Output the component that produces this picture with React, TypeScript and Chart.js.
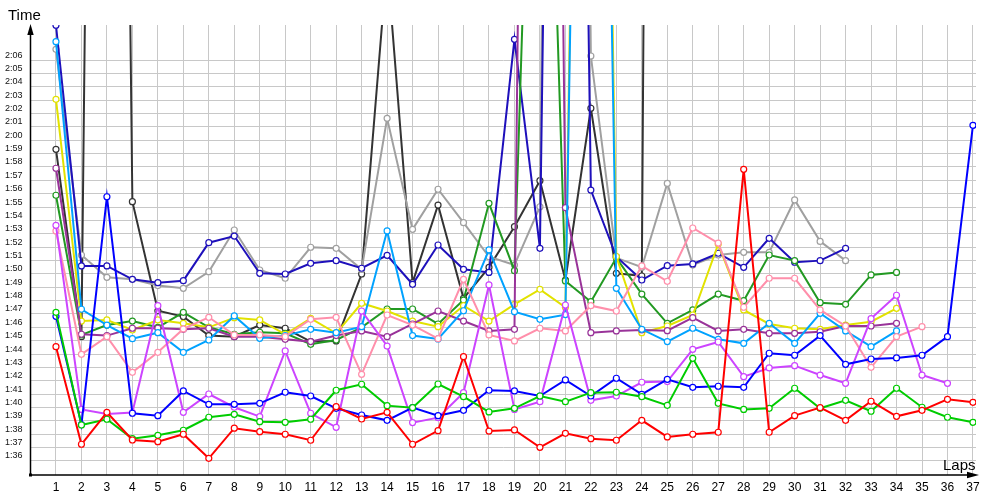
import { useEffect, useRef } from 'react';
import { Chart, registerables } from 'chart.js';

Chart.register(...registerables);

const laps = [1, 2, 3, 4, 5, 6, 7, 8, 9, 10, 11, 12, 13, 14, 15, 16, 17, 18, 19, 20, 21, 22, 23, 24, 25, 26, 27, 28, 29, 30, 31, 32, 33, 34, 35, 36, 37];
const yTickSeconds = [96, 97, 98, 99, 100, 101, 102, 103, 104, 105, 106, 107, 108, 109, 110, 111, 112, 113, 114, 115, 116, 117, 118, 119, 120, 121, 122, 123, 124, 125, 126];

// lap times in seconds
const red = [104.55, 97.25, 99.64, 97.57, 97.44, 98.0, 96.2, 98.45, 98.19, 98.0, 97.55, 100.06, 99.14, 99.64, 97.25, 98.27, 103.8, 98.24, 98.32, 97.02, 98.07, 97.67, 97.55, 99.04, 97.8, 98.0, 98.15, 117.82, 98.15, 99.39, 99.99, 99.04, 100.47, 99.34, 99.79, 100.61, 100.39];
const lime = [107.12, 98.69, 99.12, 97.67, 97.92, 98.3, 99.27, 99.49, 98.94, 98.89, 99.12, 101.29, 101.74, 100.14, 99.99, 101.76, 100.81, 99.67, 99.94, 100.86, 100.44, 101.11, 101.14, 100.81, 100.16, 103.68, 100.31, 99.86, 99.94, 101.44, 99.94, 100.54, 99.72, 101.44, 100.02, 99.27, 98.89];
const blue = [106.82, 98.72, 115.77, 99.57, 99.39, 101.24, 100.24, 100.24, 100.31, 101.14, 100.86, 99.94, 99.44, 99.04, 99.99, 99.39, 99.79, 101.29, 101.24, 100.86, 102.06, 100.86, 102.19, 100.99, 102.11, 101.51, 101.59, 101.51, 104.06, 103.91, 105.38, 103.23, 103.63, 103.71, 103.91, 105.3, 121.11];
const violet = [113.63, 99.86, 99.52, 99.62, 107.62, 99.64, 101.01, 100.02, 99.32, 104.23, 99.57, 98.52, 107.22, 104.6, 98.87, 99.24, 101.11, 109.17, 99.86, 100.44, 107.67, 100.54, 100.86, 101.89, 101.94, 104.35, 104.9, 102.31, 102.96, 103.13, 102.43, 101.81, 106.65, 108.4, 102.43, 101.81];
const pink = [113.21, 103.98, 105.3, 102.63, 104.13, 105.88, 106.75, 105.43, 105.43, 105.3, 106.6, 106.75, 102.48, 106.92, 106.17, 105.15, 109.59, 105.43, 104.98, 105.93, 105.73, 107.62, 107.22, 110.6, 109.44, 113.43, 112.3, 107.5, 109.67, 109.67, 107.3, 106.1, 103.01, 105.3, 106.05];
const lightBlue = [127.37, 107.35, 106.17, 105.15, 105.6, 104.13, 105.05, 106.85, 105.18, 105.38, 105.85, 105.6, 106.05, 113.21, 105.38, 105.13, 107.24, 111.79, 107.17, 106.6, 106.95, 220, 108.92, 105.85, 104.93, 105.93, 105.1, 104.8, 106.3, 104.8, 107.05, 105.73, 104.55, 105.73];
const purple = [117.9, 105.48, 105.38, 105.93, 105.93, 105.85, 105.93, 105.3, 105.3, 105.1, 104.93, 105.38, 105.73, 105.3, 106.25, 107.22, 106.47, 105.73, 105.85, 280, 114.95, 105.6, 105.73, 105.8, 105.75, 106.72, 105.73, 105.85, 105.55, 105.55, 105.67, 106.1, 106.1, 106.3];
const yellow = [123.06, 106.47, 106.55, 105.8, 106.55, 106.3, 106.0, 106.72, 106.55, 105.48, 106.67, 105.55, 107.8, 107.22, 106.47, 106.05, 107.62, 106.47, 107.72, 108.84, 107.5, 230, 111.3, 105.6, 106.1, 106.92, 112.23, 107.3, 106.25, 105.93, 105.85, 106.17, 106.42, 107.42];
const darkGreen = [115.88, 105.43, 106.17, 106.47, 106.0, 107.12, 106.0, 105.48, 105.63, 105.55, 104.73, 105.05, 106.0, 107.37, 107.37, 106.25, 108.04, 115.28, 110.24, 170, 109.47, 107.92, 111.2, 108.49, 106.3, 107.3, 108.49, 107.99, 111.41, 110.99, 107.84, 107.72, 109.92, 110.11];
const navy = [128.6, 110.59, 110.59, 109.59, 109.34, 109.49, 112.33, 112.83, 110.04, 109.99, 110.79, 110.99, 110.42, 111.39, 109.22, 112.16, 110.34, 110.11, 127.55, 111.91, 250, 116.27, 111.28, 109.54, 110.61, 110.74, 111.54, 110.49, 112.66, 110.87, 110.99, 111.91];
const gray = [126.8, 111.41, 109.74, 109.59, 109.12, 108.92, 110.16, 113.28, 110.29, 109.67, 111.99, 111.91, 110.34, 121.64, 113.33, 116.33, 113.83, 111.28, 110.66, 115.02, 300, 126.3, 111.2, 110.5, 116.77, 110.66, 111.41, 111.61, 111.61, 115.53, 112.43, 110.99];
const black = [119.32, 105.3, 280, 115.4, 107.24, 106.8, 105.38, 105.3, 106.17, 105.93, 104.93, 104.98, 109.99, 133.3, 109.34, 115.15, 108.17, 110.49, 113.53, 116.97, 109.54, 122.39, 110.04, 109.84, 400];

const seriesList = [
  { name: 'red', values: red, color: '#ff0000' },
  { name: 'lime', values: lime, color: '#00cc00' },
  { name: 'blue', values: blue, color: '#0000ff' },
  { name: 'violet', values: violet, color: '#cc44ff' },
  { name: 'pink', values: pink, color: '#ff8fab' },
  { name: 'lightBlue', values: lightBlue, color: '#00a2ff' },
  { name: 'purple', values: purple, color: '#993399' },
  { name: 'yellow', values: yellow, color: '#e2e200' },
  { name: 'darkGreen', values: darkGreen, color: '#229922' },
  { name: 'navy', values: navy, color: '#1e10bb' },
  { name: 'gray', values: gray, color: '#a0a0a0' },
  { name: 'black', values: black, color: '#333333' },
];

function fmtTime(v: number): string {
  const m = Math.floor(v / 60);
  const s = Math.round(v - m * 60);
  return `${m}:${String(s).padStart(2, '0')}`;
}

const axesPlugin = {
  id: 'axesArrows',
  afterDatasetsDraw(chart: any) {
    const { ctx, chartArea } = chart;
    const left = chartArea.left;
    const bottom = chartArea.bottom;
    ctx.save();
    ctx.strokeStyle = '#000';
    ctx.fillStyle = '#000';
    ctx.lineWidth = 1.5;
    ctx.beginPath();
    ctx.moveTo(left, bottom);
    ctx.lineTo(left, 34);
    ctx.moveTo(left, bottom);
    ctx.lineTo(968, bottom);
    ctx.stroke();
    ctx.beginPath();
    ctx.moveTo(left, 24);
    ctx.lineTo(left - 3.2, 35);
    ctx.lineTo(left + 3.2, 35);
    ctx.closePath();
    ctx.fill();
    ctx.beginPath();
    ctx.moveTo(979, bottom);
    ctx.lineTo(967, bottom - 3.2);
    ctx.lineTo(967, bottom + 3.2);
    ctx.closePath();
    ctx.fill();
    ctx.fillRect(left - 1.5, bottom - 1.5, 3, 3);
    ctx.font = '15px "Liberation Sans", Arial, sans-serif';
    ctx.textBaseline = 'alphabetic';
    ctx.textAlign = 'left';
    ctx.fillText('Time', 8, 20);
    ctx.fillText('Laps', 943, 470);
    ctx.restore();
  },
};

export default function App() {
  const ref = useRef<HTMLCanvasElement | null>(null);
  useEffect(() => {
    if (!ref.current) return;
    const datasets = seriesList.map((s) => ({
      label: s.name,
      data: s.values.map((v, i) => ({ x: laps[i], y: v })),
      borderColor: s.color,
      backgroundColor: '#ffffff',
      pointBackgroundColor: '#ffffff',
      pointBorderColor: s.color,
      pointBorderWidth: 1.2,
      pointRadius: 3,
      borderWidth: 2,
      tension: 0,
      fill: false,
    }));
    const chart = new Chart(ref.current, {
      type: 'line',
      data: { datasets },
      options: {
        responsive: false,
        animation: false,
        devicePixelRatio: 1,
        events: [],
        layout: { padding: { top: 25, right: 24, left: 0, bottom: 0 } },
        plugins: { legend: { display: false }, tooltip: { enabled: false } },
        scales: {
          x: {
            type: 'linear',
            min: 0,
            max: 37.12,
            afterBuildTicks: (s: any) => {
              s.ticks = laps.map((v) => ({ value: v }));
            },
            afterFit: (s: any) => {
              s.height = 25;
            },
            grid: { color: '#c8c8c8', lineWidth: 1, drawTicks: false },
            border: { display: false },
            ticks: {
              padding: 5,
              autoSkip: false,
              maxRotation: 0,
              color: '#000',
              font: { family: '"Liberation Sans", Arial, sans-serif', size: 12 },
              callback: (v: any) => String(v),
            },
          },
          y: {
            type: 'linear',
            min: 94.95,
            max: 128.62,
            afterBuildTicks: (s: any) => {
              s.ticks = yTickSeconds.map((v) => ({ value: v }));
            },
            afterFit: (s: any) => {
              s.width = 30.5;
            },
            grid: { color: '#c8c8c8', lineWidth: 1, drawTicks: false },
            border: { display: false },
            ticks: {
              padding: 8,
              labelOffset: -5,
              autoSkip: false,
              color: '#111',
              font: { family: '"Liberation Sans", Arial, sans-serif', size: 9 },
              callback: (v: any) => fmtTime(Number(v)),
            },
          },
        },
      },
      plugins: [axesPlugin],
    });
    return () => chart.destroy();
  }, []);
  return (
    <div style={{ position: 'absolute', left: 0, top: 0, width: 1000, height: 500, background: '#fff' }}>
      <canvas ref={ref} width={1000} height={500} style={{ display: 'block', width: 1000, height: 500 }} />
    </div>
  );
}
